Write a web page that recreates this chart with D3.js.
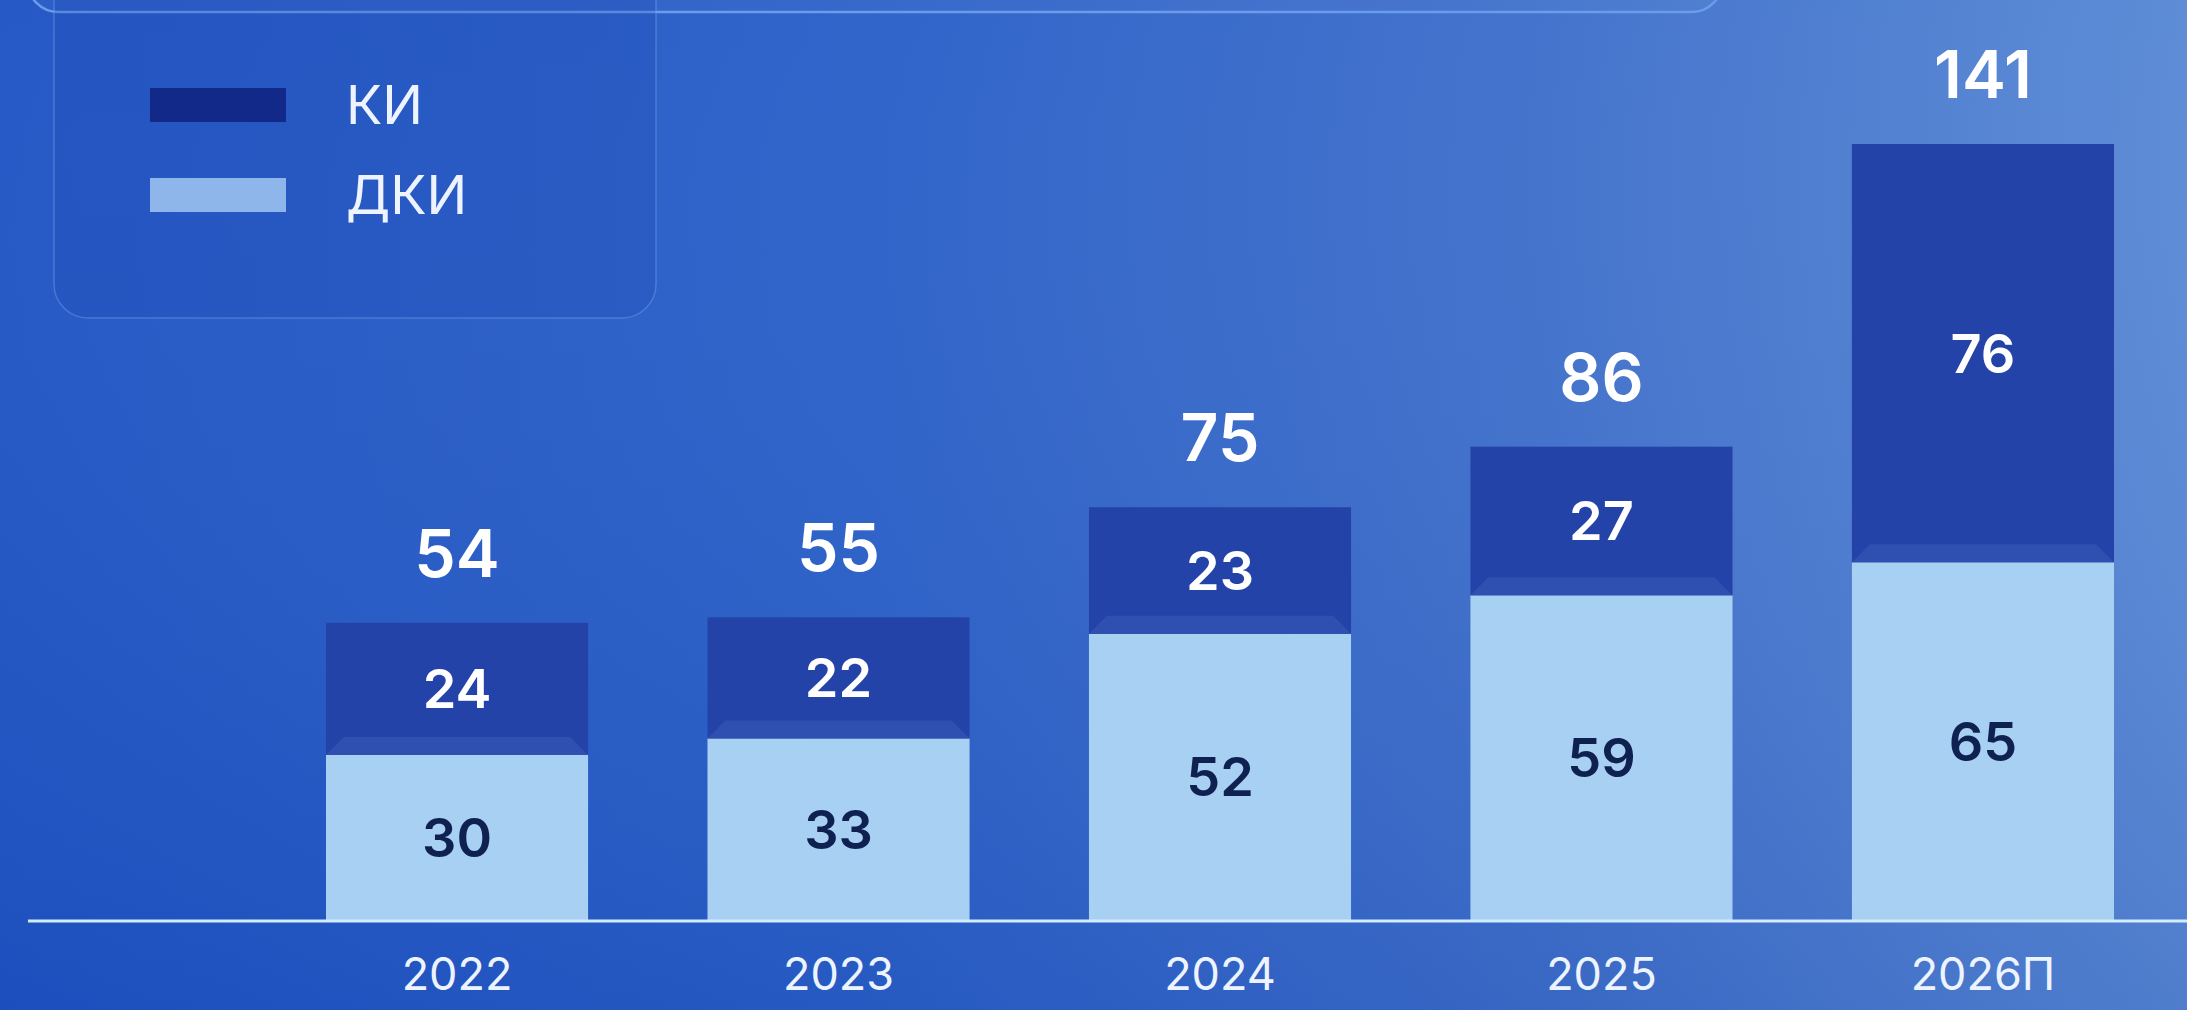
<!DOCTYPE html>
<html>
<head>
<meta charset="utf-8">
<script src="https://cdn.jsdelivr.net/npm/d3@7"></script>
<style>
  html, body { margin: 0; padding: 0; overflow: hidden; background: #2558c4; }
  svg { display: block; }
</style>
</head>
<body>
<div id="chart"></div>
<script>
// data
const years = ["2022", "2023", "2024", "2025", "2026П"];
const dkiValues = [30, 33, 52, 59, 65];   // ДКИ (light, bottom)
const kiValues = [24, 22, 23, 27, 76];    // КИ (dark, top)
const totals = [54, 55, 75, 86, 141];
const legendLabels = ["КИ", "ДКИ"];

const width = 2187, height = 1010;
const baseY = 920;

const svg = d3.select("#chart").append("svg")
  .attr("width", width)
  .attr("height", height)
  .attr("viewBox", `0 0 ${width} ${height}`);

const defs = svg.append("defs");

// background gradient, dark blue on the left, lighter on the right
const bg = defs.append("linearGradient").attr("id", "bg")
  .attr("x1", 0).attr("y1", 0).attr("x2", 1).attr("y2", 0);
bg.append("stop").attr("offset", "0%").attr("stop-color", "#1f54c4");
bg.append("stop").attr("offset", "40%").attr("stop-color", "#2a60c8");
bg.append("stop").attr("offset", "70%").attr("stop-color", "#3e6fcb");
bg.append("stop").attr("offset", "100%").attr("stop-color", "#5989d5");

const shade = defs.append("linearGradient").attr("id", "shade")
  .attr("x1", 0).attr("y1", 0).attr("x2", 0).attr("y2", 1);
shade.append("stop").attr("offset", "0%").attr("stop-color", "#ffffff").attr("stop-opacity", 0.03);
shade.append("stop").attr("offset", "100%").attr("stop-color", "#0a2a90").attr("stop-opacity", 0.12);

svg.append("rect").attr("width", width).attr("height", height).attr("fill", "url(#bg)");
svg.append("rect").attr("width", width).attr("height", height).attr("fill", "url(#shade)");

// top card (only its bottom edge is visible)
svg.append("rect")
  .attr("x", 28).attr("y", -120)
  .attr("width", 1694).attr("height", 132)
  .attr("rx", 30)
  .attr("fill", "#ffffff").attr("fill-opacity", 0.03)
  .attr("stroke", "#6b9cec").attr("stroke-width", 2.5);

// legend card
svg.append("rect")
  .attr("x", 54).attr("y", -40)
  .attr("width", 602).attr("height", 358)
  .attr("rx", 34)
  .attr("fill", "#1b45b0").attr("fill-opacity", 0.22)
  .attr("stroke", "#6f9fea").attr("stroke-opacity", 0.45).attr("stroke-width", 1.5);

const font = "Inter, 'Noto Sans', sans-serif";

const legendColors = ["#13298a", "#8fb6ea"];
const legend = svg.append("g").attr("class", "legend");
legendLabels.forEach((lab, i) => {
  const y = 105 + i * 90;
  legend.append("rect")
    .attr("x", 150).attr("y", y - 17)
    .attr("width", 136).attr("height", 34)
    .attr("fill", legendColors[i]);
  legend.append("text")
    .attr("x", 346).attr("y", y + 19)
    .attr("fill", "#eef4ff")
    .attr("font-family", font)
    .attr("font-size", 54)
    .attr("font-weight", 400)
    .text(lab);
});

// scales
const x = d3.scaleBand()
  .domain(years)
  .range([326, 2114])
  .paddingInner(0.313)
  .paddingOuter(0);

const y = d3.scaleLinear()
  .domain([0, d3.max(totals)])
  .range([baseY, 144]);

const rows = years.map((yr, i) => ({
  year: yr, dki: dkiValues[i], ki: kiValues[i], total: totals[i]
}));

const bars = svg.append("g").attr("class", "bars");

// ДКИ (bottom)
bars.selectAll("rect.dki").data(rows).join("rect")
  .attr("class", "dki")
  .attr("x", d => x(d.year))
  .attr("y", d => y(d.dki))
  .attr("width", x.bandwidth())
  .attr("height", d => baseY - y(d.dki))
  .attr("fill", "#a8d0f2");

// КИ (top)
bars.selectAll("rect.ki").data(rows).join("rect")
  .attr("class", "ki")
  .attr("x", d => x(d.year))
  .attr("y", d => y(d.dki + d.ki))
  .attr("width", x.bandwidth())
  .attr("height", d => y(d.dki) - y(d.dki + d.ki))
  .attr("fill", "#2443a8");

// small bevel where the two segments meet
bars.selectAll("path.bevel").data(rows).join("path")
  .attr("class", "bevel")
  .attr("d", d => {
    const x0 = x(d.year), x1 = x0 + x.bandwidth(), yb = y(d.dki);
    return `M${x0},${yb} L${x0 + 18},${yb - 18} L${x1 - 18},${yb - 18} L${x1},${yb} Z`;
  })
  .attr("fill", "#3a5bb8").attr("fill-opacity", 0.55);

// value labels inside segments
bars.selectAll("text.ki-lab").data(rows).join("text")
  .attr("class", "ki-lab")
  .attr("x", d => x(d.year) + x.bandwidth() / 2)
  .attr("y", d => (y(d.dki) + y(d.dki + d.ki)) / 2)
  .attr("dy", "0.36em")
  .attr("text-anchor", "middle")
  .attr("fill", "#ffffff")
  .attr("font-family", font)
  .attr("font-size", 54)
  .attr("font-weight", 600)
  .text(d => d.ki);

bars.selectAll("text.dki-lab").data(rows).join("text")
  .attr("class", "dki-lab")
  .attr("x", d => x(d.year) + x.bandwidth() / 2)
  .attr("y", d => (baseY + y(d.dki)) / 2)
  .attr("dy", "0.36em")
  .attr("text-anchor", "middle")
  .attr("fill", "#0f2150")
  .attr("font-family", font)
  .attr("font-size", 54)
  .attr("font-weight", 600)
  .text(d => d.dki);

// totals above bars
bars.selectAll("text.total").data(rows).join("text")
  .attr("class", "total")
  .attr("x", d => x(d.year) + x.bandwidth() / 2)
  .attr("y", d => y(d.total) - 46)
  .attr("text-anchor", "middle")
  .attr("fill", "#ffffff")
  .attr("font-family", font)
  .attr("font-size", 66)
  .attr("font-weight", 600)
  .text(d => d.total);

// baseline + year axis
const axis = svg.append("g")
  .attr("transform", `translate(0,${baseY})`)
  .call(d3.axisBottom(x).tickSize(0).tickPadding(38));
axis.select(".domain").remove();
axis.selectAll("text")
  .attr("fill", "#eef4ff")
  .attr("font-family", font)
  .attr("font-size", 45)
  .attr("font-weight", 400);

svg.append("line")
  .attr("x1", 28).attr("x2", width)
  .attr("y1", baseY + 1).attr("y2", baseY + 1)
  .attr("stroke", "#d2ecfc").attr("stroke-width", 3);
</script>
</body>
</html>
